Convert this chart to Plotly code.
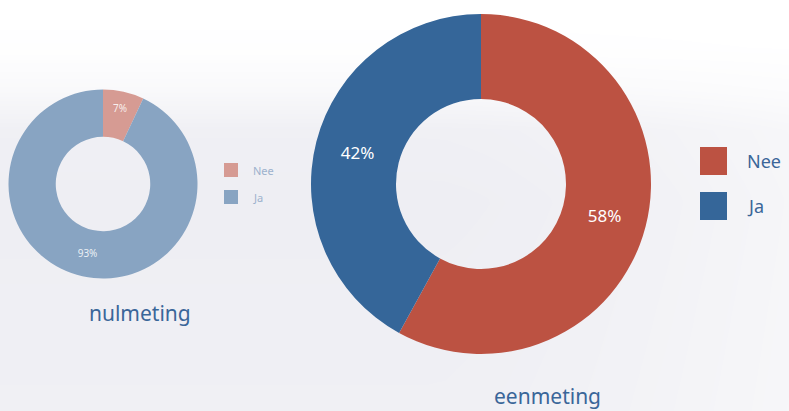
import numpy as np
import plotly.graph_objects as go

# ---- data ----
categories = ["Nee", "Ja"]
nulmeting_values = [7, 93]
eenmeting_values = [58, 42]
titles = ["nulmeting", "eenmeting"]

colors_big = ["#BC5242", "#356699"]
colors_small = ["#D69B93", "#88A4C2"]

W, H = 789, 411
fig = go.Figure()

# ---- background gradient (style only) ----
ny, nx = 80, 40
ys = np.linspace(0, 1, ny)          # 0 = bottom, 1 = top
xs = np.linspace(0, 1, nx)
ypx = (1 - ys) * H
vert = np.interp(ypx, [0, 50, 90, 130, 200, 300, 411], [0.0, 0.05, 0.35, 0.9, 1.0, 0.95, 0.9])
horiz = 1 - 0.45 * np.clip((xs - 0.55) / 0.45, 0, 1) ** 1.5
z = np.outer(vert, horiz)
fig.add_trace(go.Heatmap(
    z=z, x=xs, y=ys, zmin=0, zmax=1, zsmooth="best",
    colorscale=[[0, "#FFFFFF"], [1, "#EEEEF3"]],
    showscale=False, hoverinfo="skip"))

# ---- donuts ----
fig.add_trace(go.Pie(
    labels=categories, values=nulmeting_values, hole=0.5, sort=False,
    direction="clockwise", rotation=0,
    marker=dict(colors=colors_small, line=dict(width=0)),
    textinfo="percent", texttemplate="%{percent:.0%}", textposition="inside",
    insidetextfont=dict(family="Noto Sans", size=10, color="rgba(255,255,255,0.85)"),
    domain=dict(x=[8.5 / W, 197.5 / W], y=[(H - 278.5) / H, (H - 89.5) / H]),
    showlegend=False))

fig.add_trace(go.Pie(
    labels=categories, values=eenmeting_values, hole=0.5, sort=False,
    direction="clockwise", rotation=0,
    marker=dict(colors=colors_big, line=dict(width=0)),
    textinfo="percent", texttemplate="%{percent:.0%}", textposition="inside",
    insidetextfont=dict(family="Noto Sans", size=17, color="#FFFFFF"),
    domain=dict(x=[311 / W, 651 / W], y=[(H - 354) / H, (H - 14) / H]),
    showlegend=False))

shapes = []
annotations = []

# ---- legends (drawn manually to match swatch sizes) ----
# small legend
for i, (cat, col) in enumerate(zip(categories, colors_small)):
    y0 = 163 + i * 27
    shapes.append(dict(type="rect", xref="paper", yref="paper",
                       x0=224 / W, x1=238 / W, y0=(H - y0 - 14) / H, y1=(H - y0) / H,
                       fillcolor=col, line=dict(width=0)))
    annotations.append(dict(text=cat, xref="paper", yref="paper",
                            x=251 / W, y=(H - y0 - 7) / H, xanchor="left", yanchor="middle",
                            showarrow=False, font=dict(family="Noto Sans", size=11, color="#9DB2CD")))
# big legend
for i, (cat, col) in enumerate(zip(categories, colors_big)):
    y0 = 147 + i * 45
    shapes.append(dict(type="rect", xref="paper", yref="paper",
                       x0=700 / W, x1=727 / W, y0=(H - y0 - 28) / H, y1=(H - y0) / H,
                       fillcolor=col, line=dict(width=0)))
    annotations.append(dict(text=cat, xref="paper", yref="paper",
                            x=745 / W, y=(H - y0 - 14) / H, xanchor="left", yanchor="middle",
                            showarrow=False, font=dict(family="Noto Sans", size=18, color="#3A6699")))

# ---- titles ----
annotations.append(dict(text=titles[0], xref="paper", yref="paper",
                        x=140 / W, y=(H - 313) / H, xanchor="center", yanchor="middle",
                        showarrow=False, font=dict(family="Noto Sans", size=21, color="#3A6699")))
annotations.append(dict(text=titles[1], xref="paper", yref="paper",
                        x=547 / W, y=0, xanchor="center", yanchor="bottom",
                        showarrow=False, borderpad=0,
                        font=dict(family="Noto Sans", size=21, color="#3A6699")))

fig.update_layout(
    width=W, height=H, margin=dict(l=0, r=0, t=0, b=0),
    paper_bgcolor="#FFFFFF", plot_bgcolor="#FFFFFF",
    xaxis=dict(visible=False, range=[0, 1], domain=[0, 1], fixedrange=True),
    yaxis=dict(visible=False, range=[0, 1], domain=[0, 1], fixedrange=True),
    shapes=shapes, annotations=annotations, showlegend=False,
)

fig.write_html("out.html")
